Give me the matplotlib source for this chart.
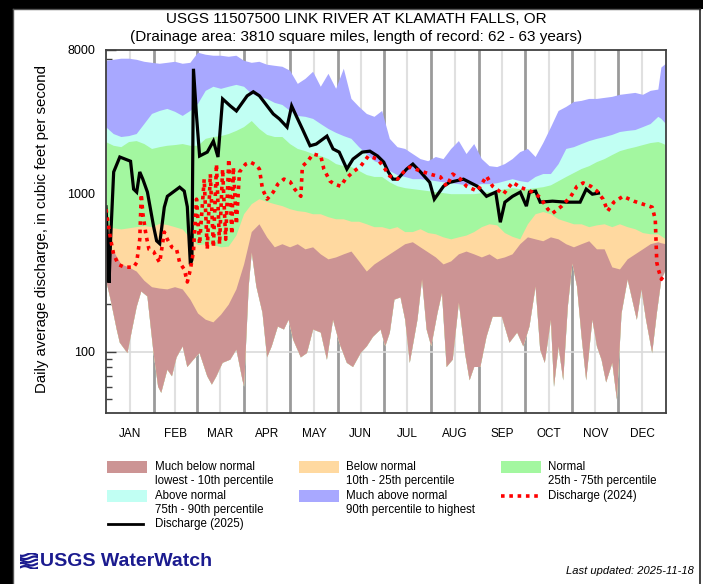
import numpy as np
import matplotlib
matplotlib.use("Agg")
import matplotlib.pyplot as plt
from matplotlib.patches import Rectangle
from matplotlib.lines import Line2D
from matplotlib.ticker import NullFormatter

plt.rcParams['font.family'] = ['Liberation Sans', 'DejaVu Sans']

# --- daily statistics, day of year (0 = Jan 1), cubic feet per second ---
band_days = list(range(0, 361, 5)) + [362, 365]

pct_max = [6840, 6940, 7050, 7050, 6940, 6740, 6640, 6550, 6640, 6740,
           6550, 6640, 7690, 7470, 7360, 7360, 7250, 7360, 6840, 6640,
           6740, 6460, 6360, 6270, 5920, 4890, 5260, 5830, 4690, 5660,
           4550, 6090, 3930, 3500, 3160, 3030, 3300, 2200, 1950, 1900,
           1765, 1640, 1590, 1690, 1640, 1900, 2130, 1765, 2040, 1640,
           1480, 1460, 1525, 1640, 1815, 1900, 1690, 2070, 2600, 3300,
           3500, 3760, 3820, 3930, 3930, 3990, 4050, 4170, 4230, 4290,
           4170, 4420, 4500, 6200, 6550]

pct_90 = [2610, 2360, 2260, 2290, 2360, 2730, 3160, 3300, 3400, 3260,
          3070, 3300, 3660, 4420, 4690, 4550, 4690, 4820, 4690, 4230,
          4050, 3930, 3710, 3600, 3300, 3070, 3030, 2940, 2730, 2540,
          2400, 2290, 2200, 1950, 1765, 1590, 1525, 1380, 1300, 1265,
          1225, 1225, 1210, 1190, 1170, 1155, 1140, 1120, 1120, 1140,
          1140, 1155, 1190, 1225, 1190, 1170, 1265, 1320, 1320, 1525,
          1900, 1950, 2040, 2130, 2200, 2260, 2330, 2430, 2470, 2500,
          2610, 2730, 3030, 2940, 2730]

pct_75 = [2100, 1990, 1950, 2100, 2130, 2040, 1900, 1950, 1990, 2010,
          2040, 1990, 1990, 2200, 2260, 2290, 2360, 2470, 2610, 2850,
          2540, 2330, 2260, 2260, 2040, 1900, 1840, 1765, 1715, 1640,
          1525, 1480, 1460, 1380, 1300, 1265, 1265, 1170, 1105, 1075,
          1060, 1045, 1030, 1015, 1000, 985, 985, 985, 985, 1000,
          1015, 1030, 1060, 1075, 1060, 1060, 1075, 1090, 1120, 1190,
          1265, 1340, 1420, 1480, 1570, 1640, 1740, 1840, 1900, 1950,
          2010, 2070, 2100, 2070, 2010]

pct_25 = [620, 600, 590, 600, 610, 620, 610, 640, 630, 610,
          590, 520, 470, 476, 470, 455, 460, 540, 736, 852,
          916, 880, 852, 828, 792, 770, 760, 736, 736, 705,
          684, 684, 660, 660, 636, 610, 610, 592, 610, 568,
          568, 592, 560, 550, 526, 511, 526, 540, 568, 610,
          636, 626, 560, 530, 511, 636, 736, 760, 736, 684,
          660, 636, 636, 610, 626, 636, 610, 636, 610, 592,
          560, 550, 550, 535, 511]

pct_10 = [442, 430, 355, 340, 320, 280, 255, 250, 247, 255,
          247, 213, 174, 159, 153, 171, 198, 247, 355, 568,
          636, 526, 455, 476, 455, 476, 442, 455, 411, 382,
          393, 411, 428, 371, 320, 355, 382, 411, 442, 476,
          490, 455, 423, 393, 355, 371, 411, 428, 411, 393,
          411, 382, 393, 411, 476, 526, 511, 497, 526, 511,
          476, 455, 476, 497, 442, 442, 340, 330, 382, 411,
          442, 476, 490, 483, 476]

min_days = [0, 1, 3, 7, 9, 14, 17, 20, 23, 27, 31, 34, 36, 40, 43, 46, 50, 53,
            57, 61, 66, 69, 72, 76, 81, 85, 89, 90, 93, 95, 98, 102, 105, 108,
            112, 116, 119, 122, 127, 131, 135, 140, 144, 148, 152, 157, 161,
            166, 170, 174, 179, 182, 185, 188, 192, 195, 198, 203, 206, 209,
            212, 216, 219, 222, 226, 230, 234, 237, 240, 244, 248, 252, 258,
            263, 268, 272, 276, 280, 283, 286, 290, 292, 295, 298, 301, 304,
            307, 310, 313, 317, 320, 323, 326, 330, 333, 336, 340, 343, 346,
            349, 352, 356, 359, 362, 365]
pct_min = [280, 258, 213, 138, 114, 98, 138, 192, 240, 223, 98, 60, 55, 77, 70,
           92, 108, 80, 89, 98, 70, 62, 70, 85, 89, 103, 66, 60, 258, 423, 258,
           176, 92, 108, 144, 138, 159, 119, 92, 98, 138, 132, 89, 159, 114, 85,
           80, 98, 108, 124, 138, 108, 132, 213, 220, 159, 85, 159, 286, 138,
           108, 174, 235, 80, 89, 204, 98, 66, 80, 80, 124, 166, 166, 114, 132,
           108, 144, 258, 103, 85, 159, 60, 108, 66, 192, 360, 258, 124, 66, 159,
           108, 89, 64, 85, 50, 174, 286, 213, 159, 247, 159, 98, 174, 286, 330]

# --- daily mean discharge ---
q2024_days = [0, 3, 5, 8, 12, 18, 20, 22, 23, 24, 26, 28, 31, 33, 35, 38, 40,
              43, 46, 48, 51, 53, 55, 57, 59, 61, 64, 66, 68, 70, 72, 74, 76,
              78, 80, 82, 83, 85, 87, 91, 94, 98, 100, 102, 105, 109, 112, 116,
              120, 123, 127, 128, 131, 135, 140, 142, 146, 149, 153, 156, 161,
              166, 171, 177, 181, 185, 190, 194, 198, 205, 211, 218, 222, 226,
              231, 235, 242, 248, 252, 259, 265, 270, 278, 283, 288, 291, 297,
              303, 307, 311, 316, 320, 324, 327, 331, 337, 344, 350, 356, 358,
              359, 360, 362, 364]
q2024 = [792, 511, 411, 355, 341, 341, 365, 511, 985, 745, 550, 442, 428, 393,
         365, 568, 511, 455, 442, 365, 330, 275, 330, 428, 916, 476, 1226, 442,
         1319, 455, 1525, 476, 1418, 511, 1641, 550, 1460, 636, 1360, 1525, 1570,
         1500, 1418, 1060, 916, 1015, 1140, 1226, 1180, 1060, 955, 1480, 1570,
         1765, 1715, 1418, 1190, 1140, 1105, 1226, 1360, 1480, 1715, 1641, 1460,
         1280, 1226, 1360, 1460, 1380, 1319, 1265, 1105, 1319, 1226, 1105, 1030,
         1280, 1105, 985, 1170, 1090, 1015, 940, 792, 745, 828, 955, 1105, 1160,
         1105, 1030, 916, 770, 877, 955, 890, 852, 815, 684, 365, 330, 286, 307]

q2025_days = [0, 1, 2, 3, 5, 9, 16, 18, 20, 22, 24, 27, 31, 33, 35, 38, 40, 48,
              51, 53, 55, 56, 57, 59, 61, 66, 70, 73, 76, 81, 85, 92, 96, 100,
              105, 109, 113, 118, 121, 124, 128, 133, 137, 144, 148, 152, 157,
              161, 167, 172, 177, 181, 184, 187, 190, 196, 200, 205, 211, 214,
              220, 224, 233, 242, 248, 254, 257, 260, 265, 270, 274, 276, 280,
              283, 291, 300, 309, 313, 317, 321]
q2025 = [820, 511, 272, 511, 1360, 1690, 1590, 1060, 1015, 1360, 1225, 1015,
         618, 500, 480, 815, 955, 1090, 1030, 820, 355, 380, 6090, 3070, 1715,
         1815, 2130, 1690, 3930, 3550, 3300, 4110, 4360, 4110, 3550, 3160, 2940,
         2610, 3550, 3070, 2540, 1990, 2040, 2290, 1900, 1815, 1420, 1640, 1815,
         1840, 1715, 1570, 1360, 1225, 1225, 1420, 1525, 1360, 1170, 916, 1105,
         1170, 1225, 1105, 955, 1015, 655, 877, 955, 1015, 828, 1015, 1030, 877,
         890, 877, 877, 1060, 985, 1000]

month_names = ['JAN', 'FEB', 'MAR', 'APR', 'MAY', 'JUN',
               'JUL', 'AUG', 'SEP', 'OCT', 'NOV', 'DEC']
month_len = [31, 28, 31, 30, 31, 30, 31, 31, 30, 31, 30, 31]

C_MUCH_BELOW = '#CC9494'
C_BELOW = '#FFD9A0'
C_NORMAL = '#A3F7A0'
C_ABOVE = '#C1FFF3'
C_MUCH_ABOVE = '#A8A8FF'

W, H = 703, 584


def fx(x):
    return x / W


def fy(y):
    return 1 - y / H


fig = plt.figure(figsize=(W / 100, H / 100), dpi=100, facecolor='black')

# white page with a thin frame, kept behind the axes
fig.patches.append(Rectangle((fx(13), 0), fx(703) - fx(13), fy(9),
                             transform=fig.transFigure, facecolor='white',
                             edgecolor='none', zorder=-10))
fig.lines.append(Line2D([fx(13), fx(13)], [0, fy(9)], transform=fig.transFigure,
                        color='#555555', lw=1, zorder=-5))
fig.lines.append(Line2D([fx(13), fx(700)], [fy(9), fy(9)], transform=fig.transFigure,
                        color='#555555', lw=1, zorder=-5))
fig.lines.append(Line2D([fx(700), fx(700)], [0, fy(9)], transform=fig.transFigure,
                        color='#222222', lw=1.2, zorder=-5))

ax = fig.add_axes([fx(106), fy(413), (666 - 106) / W, (413 - 50) / H])
ax.set_facecolor('white')

starts = np.concatenate([[0], np.cumsum(month_len)])
mids = starts[:-1] + np.array(month_len) / 2

for s in starts[1:-1]:
    ax.axvline(s, color='#9a9a9a', lw=2, zorder=1)
for m in mids:
    ax.axvline(m, color='#e0e0e0', lw=1.5, zorder=1)
for v in (100, 1000):
    ax.axhline(v, color='#dadada', lw=1.2, zorder=1)

bd = np.array(band_days)
md = np.array(min_days)
mv = np.array(pct_min)

# each band is filled from its upper percentile down to the record minimum,
# stacked so the next band covers the lower part of the previous one
for top, color in [(pct_max, C_MUCH_ABOVE), (pct_90, C_ABOVE), (pct_75, C_NORMAL),
                   (pct_25, C_BELOW), (pct_10, C_MUCH_BELOW)]:
    ax.fill(np.concatenate([bd, md[::-1]]), np.concatenate([top, mv[::-1]]),
            color=color, lw=0, zorder=2)

ax.plot(q2025_days, q2025, color='black', lw=2.3, zorder=4,
        solid_joinstyle='miter')
ax.plot(q2024_days, q2024, color='#ff0000', lw=2.6, zorder=5,
        linestyle=(0, (1.0, 1.3)), dash_capstyle='butt')

ax.set_yscale('log')
ax.set_xlim(0, 365)
ax.set_ylim(41, 8000)

ax.set_yticks([100, 1000, 8000])
ax.set_yticklabels(['100', '1000', '8000'])
minor = [50, 60, 70, 80, 90] + list(range(200, 1000, 100)) + list(range(2000, 8000, 1000))
ax.set_yticks(minor, minor=True)
ax.yaxis.set_minor_formatter(NullFormatter())
ax.tick_params(axis='y', which='major', direction='in', length=7, width=1,
               color='#404040', labelsize=9, pad=8)
ax.tick_params(axis='y', which='minor', direction='in', length=4, width=1,
               color='#404040')
ax.set_xticks(mids)
ax.set_xticklabels(month_names)
ax.tick_params(axis='x', length=0, labelsize=8.5, pad=11)

for sp in ax.spines.values():
    sp.set_color('#404040')
    sp.set_linewidth(1.3)
    sp.set_zorder(6)

fig.text(fx(356), fy(19), 'USGS 11507500 LINK RIVER AT KLAMATH FALLS, OR',
         ha='center', va='center', fontsize=11)
fig.text(fx(356), fy(37), '(Drainage area: 3810 square miles, length of record: 62 - 63 years)',
         ha='center', va='center', fontsize=11)
fig.text(fx(42), fy(229), 'Daily average discharge, in cubic feet per second',
         ha='center', va='center', rotation=90, fontsize=10.8)

# legend
def legend_box(x0, y0, color):
    fig.patches.append(Rectangle((fx(x0), fy(y0 + 12)), 40 / W, 12 / H,
                                 transform=fig.transFigure, facecolor=color,
                                 edgecolor='none'))


def legend_text(x0, y0, lines):
    for i, t in enumerate(lines):
        fig.text(fx(x0), fy(y0 + 14 * i), t, ha='left', va='center', fontsize=8.3)


legend_box(107, 461, C_MUCH_BELOW)
legend_text(155, 467, ['Much below normal', 'lowest - 10th percentile'])
legend_box(299, 461, C_BELOW)
legend_text(346, 467, ['Below normal', '10th - 25th percentile'])
legend_box(501, 461, C_NORMAL)
legend_text(548, 467, ['Normal', '25th - 75th percentile'])

legend_box(107, 490, C_ABOVE)
legend_text(155, 496, ['Above normal', '75th - 90th percentile'])
legend_box(299, 490, C_MUCH_ABOVE)
legend_text(346, 496, ['Much above normal', '90th percentile to highest'])
fig.lines.append(Line2D([fx(501), fx(538)], [fy(496), fy(496)], transform=fig.transFigure,
                        color='#ff0000', lw=2.6, linestyle=(0, (1.0, 1.3)),
                        dash_capstyle='butt'))
legend_text(548, 496, ['Discharge (2024)'])

fig.lines.append(Line2D([fx(108), fx(143)], [fy(524), fy(524)], transform=fig.transFigure,
                        color='black', lw=2))
legend_text(155, 524, ['Discharge (2025)'])

# WaterWatch logo
navy = '#1b1b8f'
icon = fig.add_axes([fx(20), fy(569), 18 / W, 16 / H])
icon.set_xlim(0, 1)
icon.set_ylim(0, 1)
icon.axis('off')
xs = np.linspace(0, 1, 30)
for k in range(5):
    base = 0.1 + 0.2 * k
    icon.plot(xs, base + 0.08 * np.sin(xs * 6 + k), color=navy, lw=1.6)
fig.text(fx(40), fy(561), 'USGS WaterWatch', ha='left', va='center',
         fontsize=14, fontweight='bold', color=navy)

fig.text(fx(694), fy(571), 'Last updated: 2025-11-18', ha='right', va='center',
         fontsize=8, style='italic')

fig.savefig('out.png', dpi=100, facecolor=fig.get_facecolor())
